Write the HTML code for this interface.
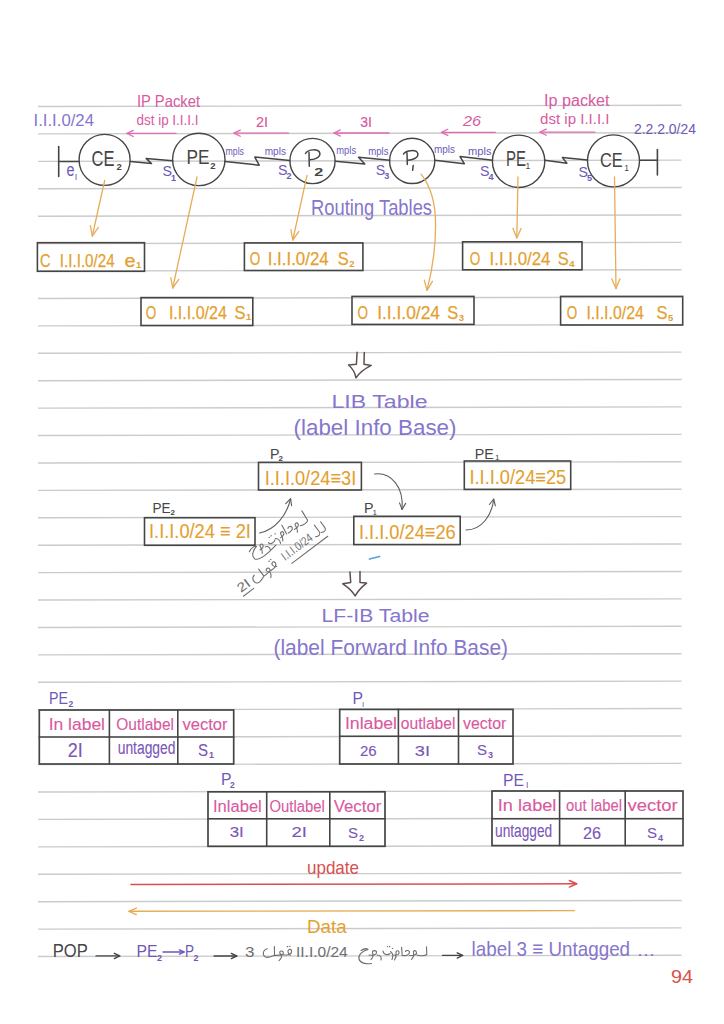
<!DOCTYPE html>
<html><head><meta charset="utf-8"><style>
html,body{margin:0;padding:0;background:#fff;}
svg{display:block;font-family:"Liberation Sans", sans-serif;}
</style></head><body>
<svg width="724" height="1024" viewBox="0 0 724 1024">
<rect width="724" height="1024" fill="#ffffff"/>
<line x1="38" y1="106.5" x2="681.5" y2="105.3" stroke="#cbcbcb" stroke-width="1.4"/>
<line x1="38" y1="133.92" x2="681.5" y2="132.72" stroke="#cbcbcb" stroke-width="1.4"/>
<line x1="38" y1="161.34" x2="681.5" y2="160.14" stroke="#cbcbcb" stroke-width="1.4"/>
<line x1="38" y1="188.76" x2="681.5" y2="187.56" stroke="#cbcbcb" stroke-width="1.4"/>
<line x1="38" y1="216.18" x2="681.5" y2="214.98" stroke="#cbcbcb" stroke-width="1.4"/>
<line x1="38" y1="243.6" x2="681.5" y2="242.4" stroke="#cbcbcb" stroke-width="1.4"/>
<line x1="38" y1="271.02" x2="681.5" y2="269.82" stroke="#cbcbcb" stroke-width="1.4"/>
<line x1="38" y1="298.44" x2="681.5" y2="297.24" stroke="#cbcbcb" stroke-width="1.4"/>
<line x1="38" y1="325.86" x2="681.5" y2="324.66" stroke="#cbcbcb" stroke-width="1.4"/>
<line x1="38" y1="353.28" x2="681.5" y2="352.08" stroke="#cbcbcb" stroke-width="1.4"/>
<line x1="38" y1="380.7" x2="681.5" y2="379.5" stroke="#cbcbcb" stroke-width="1.4"/>
<line x1="38" y1="408.12" x2="681.5" y2="406.92" stroke="#cbcbcb" stroke-width="1.4"/>
<line x1="38" y1="435.54" x2="681.5" y2="434.34" stroke="#cbcbcb" stroke-width="1.4"/>
<line x1="38" y1="462.96" x2="681.5" y2="461.76" stroke="#cbcbcb" stroke-width="1.4"/>
<line x1="38" y1="490.38" x2="681.5" y2="489.18" stroke="#cbcbcb" stroke-width="1.4"/>
<line x1="38" y1="517.8" x2="681.5" y2="516.6" stroke="#cbcbcb" stroke-width="1.4"/>
<line x1="38" y1="545.22" x2="681.5" y2="544.02" stroke="#cbcbcb" stroke-width="1.4"/>
<line x1="38" y1="572.64" x2="681.5" y2="571.44" stroke="#cbcbcb" stroke-width="1.4"/>
<line x1="38" y1="600.06" x2="681.5" y2="598.86" stroke="#cbcbcb" stroke-width="1.4"/>
<line x1="38" y1="627.48" x2="681.5" y2="626.28" stroke="#cbcbcb" stroke-width="1.4"/>
<line x1="38" y1="654.9" x2="681.5" y2="653.7" stroke="#cbcbcb" stroke-width="1.4"/>
<line x1="38" y1="682.32" x2="681.5" y2="681.12" stroke="#cbcbcb" stroke-width="1.4"/>
<line x1="38" y1="709.74" x2="681.5" y2="708.54" stroke="#cbcbcb" stroke-width="1.4"/>
<line x1="38" y1="737.16" x2="681.5" y2="735.96" stroke="#cbcbcb" stroke-width="1.4"/>
<line x1="38" y1="764.58" x2="681.5" y2="763.38" stroke="#cbcbcb" stroke-width="1.4"/>
<line x1="38" y1="792.0" x2="681.5" y2="790.8" stroke="#cbcbcb" stroke-width="1.4"/>
<line x1="38" y1="819.42" x2="681.5" y2="818.22" stroke="#cbcbcb" stroke-width="1.4"/>
<line x1="38" y1="846.84" x2="681.5" y2="845.64" stroke="#cbcbcb" stroke-width="1.4"/>
<line x1="38" y1="874.26" x2="681.5" y2="873.06" stroke="#cbcbcb" stroke-width="1.4"/>
<line x1="38" y1="901.68" x2="681.5" y2="900.48" stroke="#cbcbcb" stroke-width="1.4"/>
<line x1="38" y1="929.1" x2="681.5" y2="927.9" stroke="#cbcbcb" stroke-width="1.4"/>
<line x1="38" y1="956.52" x2="681.5" y2="955.32" stroke="#cbcbcb" stroke-width="1.4"/>
<text x="33.5" y="125.5" font-size="17" fill="#8676cc" text-anchor="start" textLength="60.5" lengthAdjust="spacingAndGlyphs">I.I.I.0/24</text>
<text x="137" y="106.8" font-size="16.5" fill="#d85aa0" text-anchor="start" textLength="63" lengthAdjust="spacingAndGlyphs">IP Packet</text>
<text x="136.5" y="124.5" font-size="15.5" fill="#d85aa0" text-anchor="start" textLength="62" lengthAdjust="spacingAndGlyphs">dst ip I.I.I.I</text>
<path d="M176,133.4 L127,133.4" stroke="#e06cb4" stroke-width="1.3" fill="none" stroke-linecap="round" stroke-linejoin="round"/>
<path d="M133.29,136.47 L127,133.4 L133.29,130.33" stroke="#e06cb4" stroke-width="1.3" fill="none" stroke-linecap="round" stroke-linejoin="round"/>
<text x="256" y="127.4" font-size="15" fill="#d85aa0" text-anchor="start" textLength="12" lengthAdjust="spacingAndGlyphs" stroke="#d85aa0" stroke-width="0.2">2I</text>
<path d="M288.5,133.2 L234,133.2" stroke="#e06cb4" stroke-width="1.3" fill="none" stroke-linecap="round" stroke-linejoin="round"/>
<path d="M240.29,136.27 L234,133.2 L240.29,130.13" stroke="#e06cb4" stroke-width="1.3" fill="none" stroke-linecap="round" stroke-linejoin="round"/>
<text x="360.3" y="126.5" font-size="15" fill="#d85aa0" text-anchor="start" textLength="11.7" lengthAdjust="spacingAndGlyphs" stroke="#d85aa0" stroke-width="0.2">3I</text>
<path d="M389,133 L334,133" stroke="#e06cb4" stroke-width="1.3" fill="none" stroke-linecap="round" stroke-linejoin="round"/>
<path d="M340.29,136.07 L334,133 L340.29,129.93" stroke="#e06cb4" stroke-width="1.3" fill="none" stroke-linecap="round" stroke-linejoin="round"/>
<text x="463" y="125.7" font-size="15" fill="#d85aa0" text-anchor="start" textLength="18" lengthAdjust="spacingAndGlyphs" style="font-style:italic">26</text>
<path d="M495.4,132.3 L441.5,132.3" stroke="#e06cb4" stroke-width="1.3" fill="none" stroke-linecap="round" stroke-linejoin="round"/>
<path d="M447.79,135.37 L441.5,132.3 L447.79,129.23" stroke="#e06cb4" stroke-width="1.3" fill="none" stroke-linecap="round" stroke-linejoin="round"/>
<text x="544" y="105.8" font-size="16" fill="#d85aa0" text-anchor="start" textLength="65.5" lengthAdjust="spacingAndGlyphs">Ip packet</text>
<text x="540" y="124" font-size="15" fill="#d85aa0" text-anchor="start" textLength="69.5" lengthAdjust="spacingAndGlyphs">dst ip I.I.I.I</text>
<path d="M595,132.2 L540,132.2" stroke="#e06cb4" stroke-width="1.3" fill="none" stroke-linecap="round" stroke-linejoin="round"/>
<path d="M546.29,135.27 L540,132.2 L546.29,129.13" stroke="#e06cb4" stroke-width="1.3" fill="none" stroke-linecap="round" stroke-linejoin="round"/>
<text x="634" y="133.8" font-size="15" fill="#6e58b8" text-anchor="start" textLength="62" lengthAdjust="spacingAndGlyphs">2.2.2.0/24</text>
<circle cx="104.6" cy="159.9" r="25.5" stroke="#454545" stroke-width="1.4" fill="none"/>
<circle cx="198.8" cy="159.4" r="26.2" stroke="#454545" stroke-width="1.4" fill="none"/>
<circle cx="312.5" cy="161" r="22.6" stroke="#454545" stroke-width="1.4" fill="none"/>
<circle cx="412.2" cy="160.9" r="22.6" stroke="#454545" stroke-width="1.4" fill="none"/>
<circle cx="518.6" cy="161.3" r="26.2" stroke="#454545" stroke-width="1.4" fill="none"/>
<circle cx="613.5" cy="160.9" r="26" stroke="#454545" stroke-width="1.4" fill="none"/>
<text x="91.5" y="165.6" font-size="21.5" fill="#454545" text-anchor="start" textLength="23" lengthAdjust="spacingAndGlyphs">CE</text>
<text x="116.5" y="170.2" font-size="9.5" fill="#454545" text-anchor="start" font-weight="bold">2</text>
<text x="186.5" y="163.8" font-size="21" fill="#454545" text-anchor="start" textLength="23" lengthAdjust="spacingAndGlyphs">PE</text>
<text x="210.3" y="168.5" font-size="9.5" fill="#454545" text-anchor="start" font-weight="bold">2</text>
<path d="M305.5,153.5 C308,149 318.5,148.5 319.8,153 C320.8,157.5 314,159.8 309.5,159.8 M309,152.5 L309.3,166.3" stroke="#454545" stroke-width="1.5" fill="none" stroke-linecap="round" stroke-linejoin="round"/>
<text x="314.2" y="175.5" font-size="11.5" fill="#454545" text-anchor="start" textLength="9" lengthAdjust="spacingAndGlyphs" font-weight="bold">2</text>
<path d="M403.5,154 C406,150 416.5,149.2 417.8,153.5 C418.8,158 412,160.2 407.5,160.2 M407,153 L407.3,164.6" stroke="#454545" stroke-width="1.5" fill="none" stroke-linecap="round" stroke-linejoin="round"/>
<path d="M413.2,165.6 L412.6,170.3" stroke="#454545" stroke-width="1.5" fill="none" stroke-linecap="round" stroke-linejoin="round"/>
<text x="506" y="166" font-size="22" fill="#454545" text-anchor="start" textLength="20" lengthAdjust="spacingAndGlyphs">PE</text>
<text x="525.5" y="169.4" font-size="8.5" fill="#454545" text-anchor="start">1</text>
<text x="600" y="167.2" font-size="20" fill="#454545" text-anchor="start" textLength="22.6" lengthAdjust="spacingAndGlyphs">CE</text>
<text x="624.3" y="170.5" font-size="8.5" fill="#454545" text-anchor="start">1</text>
<path d="M58.7,146.5 L58.7,176.5" stroke="#454545" stroke-width="1.6" fill="none" stroke-linecap="round" stroke-linejoin="round"/>
<path d="M58.7,161.5 L78.6,161.5" stroke="#454545" stroke-width="1.6" fill="none" stroke-linecap="round" stroke-linejoin="round"/>
<path d="M639.7,160.3 L657.4,160.3" stroke="#454545" stroke-width="1.6" fill="none" stroke-linecap="round" stroke-linejoin="round"/>
<path d="M657.4,149.5 L657.4,175" stroke="#454545" stroke-width="1.6" fill="none" stroke-linecap="round" stroke-linejoin="round"/>
<path d="M130.6,161.4 L151.5,163.6 L146.1,158.4 L172.6,160.7" stroke="#454545" stroke-width="1.5" fill="none" stroke-linecap="round" stroke-linejoin="round"/>
<path d="M225,161.5 L259.2,165.2 L254.8,157.1 L289.8,160.4" stroke="#454545" stroke-width="1.5" fill="none" stroke-linecap="round" stroke-linejoin="round"/>
<path d="M335.3,161.3 L364.8,164 L358.5,157.2 L389.7,160.3" stroke="#454545" stroke-width="1.5" fill="none" stroke-linecap="round" stroke-linejoin="round"/>
<path d="M434.8,160.3 L464.3,163.7 L460,156.6 L492.6,160.3" stroke="#454545" stroke-width="1.5" fill="none" stroke-linecap="round" stroke-linejoin="round"/>
<path d="M544.8,160.3 L566.9,163.2 L562.4,157.6 L587.4,160" stroke="#454545" stroke-width="1.5" fill="none" stroke-linecap="round" stroke-linejoin="round"/>
<text x="66.5" y="175.5" font-size="18" fill="#6e58b8" text-anchor="start" textLength="8" lengthAdjust="spacingAndGlyphs">e</text>
<text x="74.8" y="179.6" font-size="9" fill="#6e58b8" text-anchor="start" textLength="2.5" lengthAdjust="spacingAndGlyphs">I</text>
<text x="162.5" y="176" font-size="15.5" fill="#6e58b8" text-anchor="start" textLength="9.5" lengthAdjust="spacingAndGlyphs">S</text>
<text x="171.0" y="180.5" font-size="9" fill="#6e58b8" text-anchor="start" font-weight="bold">1</text>
<text x="278" y="174.5" font-size="15.5" fill="#6e58b8" text-anchor="start" textLength="9.5" lengthAdjust="spacingAndGlyphs">S</text>
<text x="286.5" y="179.0" font-size="9" fill="#6e58b8" text-anchor="start" font-weight="bold">2</text>
<text x="375.8" y="174.5" font-size="15.5" fill="#6e58b8" text-anchor="start" textLength="9.5" lengthAdjust="spacingAndGlyphs">S</text>
<text x="384.3" y="179.0" font-size="9" fill="#6e58b8" text-anchor="start" font-weight="bold">3</text>
<text x="480" y="175.5" font-size="15.5" fill="#6e58b8" text-anchor="start" textLength="9.5" lengthAdjust="spacingAndGlyphs">S</text>
<text x="488.5" y="180.0" font-size="9" fill="#6e58b8" text-anchor="start" font-weight="bold">4</text>
<text x="578.5" y="176.5" font-size="15.5" fill="#6e58b8" text-anchor="start" textLength="9.5" lengthAdjust="spacingAndGlyphs">S</text>
<text x="587.0" y="181.0" font-size="9" fill="#6e58b8" text-anchor="start" font-weight="bold">5</text>
<text x="225.5" y="154.5" font-size="10.5" fill="#6e58b8" text-anchor="start" textLength="18.5" lengthAdjust="spacingAndGlyphs">mpls</text>
<text x="264.7" y="155" font-size="10.5" fill="#6e58b8" text-anchor="start" textLength="21.3" lengthAdjust="spacingAndGlyphs">mpls</text>
<text x="336.3" y="153.5" font-size="10.5" fill="#6e58b8" text-anchor="start" textLength="19.8" lengthAdjust="spacingAndGlyphs">mpls</text>
<text x="368.2" y="155" font-size="10.5" fill="#6e58b8" text-anchor="start" textLength="20.3" lengthAdjust="spacingAndGlyphs">mpls</text>
<text x="434" y="153" font-size="10.5" fill="#6e58b8" text-anchor="start" textLength="21" lengthAdjust="spacingAndGlyphs">mpls</text>
<text x="468" y="154.5" font-size="10.5" fill="#6e58b8" text-anchor="start" textLength="23.5" lengthAdjust="spacingAndGlyphs">mpls</text>
<text x="311" y="215" font-size="22.5" fill="#8676cc" text-anchor="start" textLength="121" lengthAdjust="spacingAndGlyphs">Routing Tables</text>
<rect x="37.4" y="242.7" width="107.1" height="28.6" stroke="#454545" stroke-width="1.6" fill="none"/>
<text x="40.0" y="266.5" font-size="18.5" fill="#e49f30" text-anchor="start" textLength="10.5" lengthAdjust="spacingAndGlyphs" stroke="#e49f30" stroke-width="0.25">C</text>
<text x="59.8" y="266.5" font-size="18.5" fill="#e49f30" text-anchor="start" textLength="54.9" lengthAdjust="spacingAndGlyphs" stroke="#e49f30" stroke-width="0.25">I.I.I.0/24</text>
<text x="124.4" y="266.5" font-size="18.5" fill="#e49f30" text-anchor="start" textLength="11" lengthAdjust="spacingAndGlyphs" stroke="#e49f30" stroke-width="0.25">e</text>
<text x="135.9" y="268.0" font-size="9.5" fill="#e49f30" text-anchor="start" font-weight="bold">1</text>
<rect x="141" y="297.6" width="111.8" height="27.9" stroke="#454545" stroke-width="1.6" fill="none"/>
<text x="145.7" y="318.5" font-size="18.5" fill="#e49f30" text-anchor="start" textLength="10.5" lengthAdjust="spacingAndGlyphs" stroke="#e49f30" stroke-width="0.25">O</text>
<text x="168.9" y="318.5" font-size="18.5" fill="#e49f30" text-anchor="start" textLength="58.0" lengthAdjust="spacingAndGlyphs" stroke="#e49f30" stroke-width="0.25">I.I.I.0/24</text>
<text x="234.6" y="318.5" font-size="18.5" fill="#e49f30" text-anchor="start" textLength="11" lengthAdjust="spacingAndGlyphs" stroke="#e49f30" stroke-width="0.25">S</text>
<text x="246.1" y="320.0" font-size="9.5" fill="#e49f30" text-anchor="start" font-weight="bold">1</text>
<rect x="244.4" y="242.9" width="118.5" height="27.6" stroke="#454545" stroke-width="1.6" fill="none"/>
<text x="249.7" y="265" font-size="18.5" fill="#e49f30" text-anchor="start" textLength="10.5" lengthAdjust="spacingAndGlyphs" stroke="#e49f30" stroke-width="0.25">O</text>
<text x="267.7" y="265" font-size="18.5" fill="#e49f30" text-anchor="start" textLength="61.0" lengthAdjust="spacingAndGlyphs" stroke="#e49f30" stroke-width="0.25">I.I.I.0/24</text>
<text x="337.7" y="265" font-size="18.5" fill="#e49f30" text-anchor="start" textLength="11" lengthAdjust="spacingAndGlyphs" stroke="#e49f30" stroke-width="0.25">S</text>
<text x="349.2" y="266.5" font-size="9.5" fill="#e49f30" text-anchor="start" font-weight="bold">2</text>
<rect x="352" y="296.4" width="122" height="28.0" stroke="#454545" stroke-width="1.6" fill="none"/>
<text x="357.5" y="319" font-size="18.5" fill="#e49f30" text-anchor="start" textLength="10.5" lengthAdjust="spacingAndGlyphs" stroke="#e49f30" stroke-width="0.25">O</text>
<text x="377.2" y="319" font-size="18.5" fill="#e49f30" text-anchor="start" textLength="62.8" lengthAdjust="spacingAndGlyphs" stroke="#e49f30" stroke-width="0.25">I.I.I.0/24</text>
<text x="447.2" y="319" font-size="18.5" fill="#e49f30" text-anchor="start" textLength="11" lengthAdjust="spacingAndGlyphs" stroke="#e49f30" stroke-width="0.25">S</text>
<text x="458.7" y="320.5" font-size="9.5" fill="#e49f30" text-anchor="start" font-weight="bold">3</text>
<rect x="462.6" y="241.8" width="119.4" height="28.0" stroke="#454545" stroke-width="1.6" fill="none"/>
<text x="469.7" y="265" font-size="18.5" fill="#e49f30" text-anchor="start" textLength="10.5" lengthAdjust="spacingAndGlyphs" stroke="#e49f30" stroke-width="0.25">O</text>
<text x="489.5" y="265" font-size="18.5" fill="#e49f30" text-anchor="start" textLength="61.0" lengthAdjust="spacingAndGlyphs" stroke="#e49f30" stroke-width="0.25">I.I.I.0/24</text>
<text x="557.7" y="265" font-size="18.5" fill="#e49f30" text-anchor="start" textLength="11" lengthAdjust="spacingAndGlyphs" stroke="#e49f30" stroke-width="0.25">S</text>
<text x="569.2" y="266.5" font-size="9.5" fill="#e49f30" text-anchor="start" font-weight="bold">4</text>
<rect x="560.6" y="296.4" width="122.1" height="28.6" stroke="#454545" stroke-width="1.6" fill="none"/>
<text x="566.7" y="319" font-size="18.5" fill="#e49f30" text-anchor="start" textLength="10.5" lengthAdjust="spacingAndGlyphs" stroke="#e49f30" stroke-width="0.25">O</text>
<text x="586.4" y="319" font-size="18.5" fill="#e49f30" text-anchor="start" textLength="57.5" lengthAdjust="spacingAndGlyphs" stroke="#e49f30" stroke-width="0.25">I.I.I.0/24</text>
<text x="656.5" y="319" font-size="18.5" fill="#e49f30" text-anchor="start" textLength="11" lengthAdjust="spacingAndGlyphs" stroke="#e49f30" stroke-width="0.25">S</text>
<text x="668.0" y="320.5" font-size="9.5" fill="#e49f30" text-anchor="start" font-weight="bold">5</text>
<path d="M104.7,180.5 L92.3,236" stroke="#e8ac58" stroke-width="1.3" fill="none" stroke-linecap="round" stroke-linejoin="round"/>
<path d="M98.41,227.46 L92.3,236 L90.4,225.67" stroke="#e8ac58" stroke-width="1.3" fill="none" stroke-linecap="round" stroke-linejoin="round"/>
<path d="M197,177 L172.7,288" stroke="#e8ac58" stroke-width="1.3" fill="none" stroke-linecap="round" stroke-linejoin="round"/>
<path d="M178.77,279.44 L172.7,288 L170.76,277.68" stroke="#e8ac58" stroke-width="1.3" fill="none" stroke-linecap="round" stroke-linejoin="round"/>
<path d="M307,175.4 L292.8,240" stroke="#e8ac58" stroke-width="1.3" fill="none" stroke-linecap="round" stroke-linejoin="round"/>
<path d="M298.88,231.44 L292.8,240 L290.87,229.68" stroke="#e8ac58" stroke-width="1.3" fill="none" stroke-linecap="round" stroke-linejoin="round"/>
<path d="M421.1,174.2 C432,188 435.6,205 435.6,225 C435.6,255 431,275 427,290.3" stroke="#e8ac58" stroke-width="1.3" fill="none" stroke-linecap="round" stroke-linejoin="round"/>
<path d="M432.41,281.3 L427,290.3 L424.28,280.16" stroke="#e8ac58" stroke-width="1.3" fill="none" stroke-linecap="round" stroke-linejoin="round"/>
<path d="M518,177 L516.8,238" stroke="#e8ac58" stroke-width="1.3" fill="none" stroke-linecap="round" stroke-linejoin="round"/>
<path d="M521.09,228.42 L516.8,238 L512.89,228.26" stroke="#e8ac58" stroke-width="1.3" fill="none" stroke-linecap="round" stroke-linejoin="round"/>
<path d="M614.5,177 L616,288.5" stroke="#e8ac58" stroke-width="1.3" fill="none" stroke-linecap="round" stroke-linejoin="round"/>
<path d="M619.97,278.78 L616,288.5 L611.77,278.89" stroke="#e8ac58" stroke-width="1.3" fill="none" stroke-linecap="round" stroke-linejoin="round"/>
<path d="M357.1,352.3 L356.4,364.3 L348.5,365 Q354.5,370 356,377.8 Q361,370.5 371.3,365.4 L364,364.3 L364.3,352.6" stroke="#5e4d4d" stroke-width="1.5" fill="none" stroke-linecap="round" stroke-linejoin="round"/>
<text x="331.5" y="407.5" font-size="17.5" fill="#8676cc" text-anchor="start" textLength="96" lengthAdjust="spacingAndGlyphs">LIB Table</text>
<text x="293.5" y="434.5" font-size="21.5" fill="#8676cc" text-anchor="start" textLength="163" lengthAdjust="spacingAndGlyphs">(label Info Base)</text>
<rect x="258.5" y="462.4" width="102.9" height="27.6" stroke="#454545" stroke-width="1.6" fill="none"/>
<text x="264.7" y="484.8" font-size="20" fill="#e49f30" text-anchor="start" textLength="91.5" lengthAdjust="spacingAndGlyphs" stroke="#e49f30" stroke-width="0.1">I.I.I.0/24≡3I</text>
<rect x="464.3" y="461" width="106.4" height="28.4" stroke="#454545" stroke-width="1.6" fill="none"/>
<text x="469.5" y="483.5" font-size="20" fill="#e49f30" text-anchor="start" textLength="96.7" lengthAdjust="spacingAndGlyphs" stroke="#e49f30" stroke-width="0.1">I.I.I.0/24≡25</text>
<rect x="144.5" y="517.7" width="110.5" height="27.6" stroke="#454545" stroke-width="1.6" fill="none"/>
<text x="149" y="538.4" font-size="20" fill="#e49f30" text-anchor="start" textLength="101.9" lengthAdjust="spacingAndGlyphs" stroke="#e49f30" stroke-width="0.1">I.I.I.0/24 ≡ 2I</text>
<rect x="353.8" y="516.3" width="106.4" height="28.3" stroke="#454545" stroke-width="1.6" fill="none"/>
<text x="359" y="538.8" font-size="20" fill="#e49f30" text-anchor="start" textLength="96.7" lengthAdjust="spacingAndGlyphs" stroke="#e49f30" stroke-width="0.1">I.I.I.0/24≡26</text>
<text x="152.4" y="512.5" font-size="15" fill="#454545" text-anchor="start" textLength="18" lengthAdjust="spacingAndGlyphs">PE</text>
<text x="170.5" y="514.5" font-size="8" fill="#454545" text-anchor="start" font-weight="bold">2</text>
<text x="270" y="459" font-size="15" fill="#454545" text-anchor="start" textLength="9.5" lengthAdjust="spacingAndGlyphs">P</text>
<text x="278.5" y="461" font-size="8" fill="#454545" text-anchor="start" font-weight="bold">2</text>
<text x="364" y="512.5" font-size="15" fill="#454545" text-anchor="start" textLength="9.5" lengthAdjust="spacingAndGlyphs">P</text>
<text x="372.5" y="514.6" font-size="8" fill="#454545" text-anchor="start">1</text>
<text x="474.7" y="458.5" font-size="15" fill="#454545" text-anchor="start" textLength="19" lengthAdjust="spacingAndGlyphs">PE</text>
<text x="495" y="459.5" font-size="8" fill="#454545" text-anchor="start">1</text>
<path d="M259.5,533 C275,530 287,515 290.6,498.7" stroke="#5c5c5c" stroke-width="1.1" fill="none" stroke-linecap="round" stroke-linejoin="round"/>
<path d="M285.74,503.74 L290.6,498.7 L291.57,505.63" stroke="#5c5c5c" stroke-width="1.1" fill="none" stroke-linecap="round" stroke-linejoin="round"/>
<path d="M374.5,474 C392,472 404,488 402,509.4" stroke="#5c5c5c" stroke-width="1.1" fill="none" stroke-linecap="round" stroke-linejoin="round"/>
<path d="M405.61,503.4 L402,509.4 L399.49,502.86" stroke="#5c5c5c" stroke-width="1.1" fill="none" stroke-linecap="round" stroke-linejoin="round"/>
<path d="M466,530 C482,530 492,515 493.7,499" stroke="#5c5c5c" stroke-width="1.1" fill="none" stroke-linecap="round" stroke-linejoin="round"/>
<path d="M489.39,504.52 L493.7,499 L495.39,505.79" stroke="#5c5c5c" stroke-width="1.1" fill="none" stroke-linecap="round" stroke-linejoin="round"/>
<path d="M369.5,559 L379.5,556.5" stroke="#5aa0e0" stroke-width="1.8" fill="none" stroke-linecap="round" stroke-linejoin="round"/>
<g transform="translate(252,556) rotate(-31)"><path d="M0,-5 C4,-8 8,-7 9,-6 C3,-4 -1,0 1,4 C3,7 12,7 26,3 M10,-1 C13,-1 15,-2 15,-4 C15,-6 12,-6 12,-4 C12,-2 12,1 10,3 M16,-1 C18,-1 20,1 19,4 M21,-3 C21,0 26,0 28,-2 M24,-7 l0.5,0 M26.5,-7.5 l0.5,0 M29,-3 C31,-2 32,1 31,4 M31,-7 l0.5,0 M34,-1 C37,-1 39,-2 39,-4 C39,-6 36,-6 36,-4 C36,-2 36,1 34,3 M41,-1 L41.5,-11 M43,-1 C46,-1 49,-2 49,-4 C49,-6 46,-7 45,-5 M50,-1 C53,-1 56,-2 56,-4 C56,-6 53,-6 53,-4 C53,-2 53,1 51,3 M57,-1 C60,0 65,0 66,-2 L66,-13" stroke="#6e6e6e" stroke-width="1.1" fill="none" stroke-linecap="round" stroke-linejoin="round"/></g>
<g transform="translate(285,561) rotate(-37)"><text x="0" y="0" font-size="12" fill="#6e6e6e" textLength="36" lengthAdjust="spacingAndGlyphs">I.I.I.0/24</text><path d="M39,-1 C42,1 45,0 45,-3 L45,-11 M46,-1 C49,1 52,0 52,-3 L52,-10 M4,6 L49,6" stroke="#6e6e6e" stroke-width="1.1" fill="none" stroke-linecap="round" stroke-linejoin="round"/></g>
<g transform="translate(241,593) rotate(-37)"><text x="0" y="0" font-size="13" fill="#6e6e6e" textLength="13" lengthAdjust="spacingAndGlyphs">2I</text><g transform="translate(17,0)"><path d="M4.3,-6.3 C-1,-5 -1,2.4 4.3,2.4 C7,2.4 9,1.5 11.5,0.3 L11.4,-8.4 M11.5,0.3 C14,0.5 16,0 18,0 C21,0 21,-4 18.5,-4 C16,-4 16.5,-1 18.5,0 C19,2 18,4 16,5.7 M20,0 L24,0 C27,0 29,-2 28.5,-4.5 C27.5,-6.5 24.5,-5.5 25,-3 C25.5,-1 26,0 27.5,0.2 M24.2,-8.4 l0.6,0 M26.5,-8.8 l0.6,0" stroke="#6e6e6e" stroke-width="1.1" fill="none" stroke-linecap="round" stroke-linejoin="round"/></g><path d="M0,4 L13,4" stroke="#6e6e6e" stroke-width="1.1" fill="none" stroke-linecap="round" stroke-linejoin="round"/></g>
<path d="M350,572.1 L350.7,582.4 L342.8,583.8 Q351,589 355.2,595.9 Q359,589 366.6,583.1 L360,582.4 L360,571.4" stroke="#5e4d4d" stroke-width="1.5" fill="none" stroke-linecap="round" stroke-linejoin="round"/>
<text x="321.5" y="622" font-size="17.5" fill="#8676cc" text-anchor="start" textLength="108" lengthAdjust="spacingAndGlyphs">LF-IB Table</text>
<text x="273.5" y="654.5" font-size="21.5" fill="#8676cc" text-anchor="start" textLength="234.5" lengthAdjust="spacingAndGlyphs">(label Forward Info Base)</text>
<rect x="39.3" y="710" width="194.4" height="54" stroke="#454545" stroke-width="1.7" fill="none"/>
<path d="M39.3,737 L233.7,737" stroke="#454545" stroke-width="1.6" fill="none" stroke-linecap="round" stroke-linejoin="round"/>
<path d="M109.4,710 L109.4,764" stroke="#454545" stroke-width="1.6" fill="none" stroke-linecap="round" stroke-linejoin="round"/>
<path d="M177.8,710 L177.8,764" stroke="#454545" stroke-width="1.6" fill="none" stroke-linecap="round" stroke-linejoin="round"/>
<text x="48.7" y="730" font-size="17" fill="#d85aa0" text-anchor="start" textLength="56.3" lengthAdjust="spacingAndGlyphs" stroke="#d85aa0" stroke-width="0.12">In label</text>
<text x="116.3" y="730" font-size="17" fill="#d85aa0" text-anchor="start" textLength="57.7" lengthAdjust="spacingAndGlyphs" stroke="#d85aa0" stroke-width="0.12">Outlabel</text>
<text x="182.5" y="730" font-size="17" fill="#d85aa0" text-anchor="start" textLength="45.1" lengthAdjust="spacingAndGlyphs" stroke="#d85aa0" stroke-width="0.12">vector</text>
<text x="67.7" y="756.6" font-size="19.5" fill="#7a56b8" text-anchor="start" textLength="15.0" lengthAdjust="spacingAndGlyphs" stroke="#7a56b8" stroke-width="0.12">2I</text>
<text x="117.7" y="754" font-size="18" fill="#7a56b8" text-anchor="start" textLength="57.8" lengthAdjust="spacingAndGlyphs" stroke="#7a56b8" stroke-width="0.12">untagged</text>
<text x="198" y="755.5" font-size="16" fill="#7a56b8" text-anchor="start" textLength="10" lengthAdjust="spacingAndGlyphs" stroke="#7a56b8" stroke-width="0.12">S</text>
<text x="209" y="758.0" font-size="9" fill="#7a56b8" text-anchor="start" font-weight="bold">1</text>
<rect x="339.7" y="709.4" width="173.3" height="54.6" stroke="#454545" stroke-width="1.7" fill="none"/>
<path d="M339.7,736.3 L513,736.3" stroke="#454545" stroke-width="1.6" fill="none" stroke-linecap="round" stroke-linejoin="round"/>
<path d="M398.4,709.4 L398.4,764" stroke="#454545" stroke-width="1.6" fill="none" stroke-linecap="round" stroke-linejoin="round"/>
<path d="M458.5,709.4 L458.5,764" stroke="#454545" stroke-width="1.6" fill="none" stroke-linecap="round" stroke-linejoin="round"/>
<text x="344.9" y="729" font-size="16" fill="#d85aa0" text-anchor="start" textLength="52.1" lengthAdjust="spacingAndGlyphs" stroke="#d85aa0" stroke-width="0.12">Inlabel</text>
<text x="400.8" y="729" font-size="16" fill="#d85aa0" text-anchor="start" textLength="54.6" lengthAdjust="spacingAndGlyphs" stroke="#d85aa0" stroke-width="0.12">outlabel</text>
<text x="463" y="729" font-size="16" fill="#d85aa0" text-anchor="start" textLength="43.3" lengthAdjust="spacingAndGlyphs" stroke="#d85aa0" stroke-width="0.12">vector</text>
<text x="360" y="755.8" font-size="14" fill="#7a56b8" text-anchor="start" textLength="16.7" lengthAdjust="spacingAndGlyphs" stroke="#7a56b8" stroke-width="0.12">26</text>
<text x="414.8" y="755.8" font-size="14" fill="#7a56b8" text-anchor="start" textLength="15.2" lengthAdjust="spacingAndGlyphs" stroke="#7a56b8" stroke-width="0.12">3I</text>
<text x="477" y="755" font-size="15" fill="#7a56b8" text-anchor="start" textLength="10" lengthAdjust="spacingAndGlyphs" stroke="#7a56b8" stroke-width="0.12">S</text>
<text x="488" y="757.5" font-size="9" fill="#7a56b8" text-anchor="start" font-weight="bold">3</text>
<rect x="208" y="791.8" width="177" height="54.5" stroke="#454545" stroke-width="1.7" fill="none"/>
<path d="M208,818.7 L385,818.7" stroke="#454545" stroke-width="1.6" fill="none" stroke-linecap="round" stroke-linejoin="round"/>
<path d="M266.7,791.8 L266.7,846.3" stroke="#454545" stroke-width="1.6" fill="none" stroke-linecap="round" stroke-linejoin="round"/>
<path d="M329.8,791.8 L329.8,846.3" stroke="#454545" stroke-width="1.6" fill="none" stroke-linecap="round" stroke-linejoin="round"/>
<text x="213" y="811.7" font-size="16" fill="#d85aa0" text-anchor="start" textLength="48.8" lengthAdjust="spacingAndGlyphs" stroke="#d85aa0" stroke-width="0.12">Inlabel</text>
<text x="269.5" y="811.7" font-size="16" fill="#d85aa0" text-anchor="start" textLength="55.3" lengthAdjust="spacingAndGlyphs" stroke="#d85aa0" stroke-width="0.12">Outlabel</text>
<text x="333.8" y="811.7" font-size="16" fill="#d85aa0" text-anchor="start" textLength="47.5" lengthAdjust="spacingAndGlyphs" stroke="#d85aa0" stroke-width="0.12">Vector</text>
<text x="229.7" y="837.4" font-size="14.5" fill="#7a56b8" text-anchor="start" textLength="14.1" lengthAdjust="spacingAndGlyphs" stroke="#7a56b8" stroke-width="0.12">3I</text>
<text x="291.4" y="837.4" font-size="14.5" fill="#7a56b8" text-anchor="start" textLength="15.4" lengthAdjust="spacingAndGlyphs" stroke="#7a56b8" stroke-width="0.12">2I</text>
<text x="347.9" y="838" font-size="15" fill="#7a56b8" text-anchor="start" textLength="10" lengthAdjust="spacingAndGlyphs" stroke="#7a56b8" stroke-width="0.12">S</text>
<text x="358.9" y="840.5" font-size="9" fill="#7a56b8" text-anchor="start" font-weight="bold">2</text>
<rect x="492" y="791" width="191" height="54.6" stroke="#454545" stroke-width="1.7" fill="none"/>
<path d="M492,818.7 L683,818.7" stroke="#454545" stroke-width="1.6" fill="none" stroke-linecap="round" stroke-linejoin="round"/>
<path d="M559.6,791 L559.6,845.6" stroke="#454545" stroke-width="1.6" fill="none" stroke-linecap="round" stroke-linejoin="round"/>
<path d="M625.2,791 L625.2,845.6" stroke="#454545" stroke-width="1.6" fill="none" stroke-linecap="round" stroke-linejoin="round"/>
<text x="497.8" y="811" font-size="16" fill="#d85aa0" text-anchor="start" textLength="58.6" lengthAdjust="spacingAndGlyphs" stroke="#d85aa0" stroke-width="0.12">In label</text>
<text x="566" y="811" font-size="16" fill="#d85aa0" text-anchor="start" textLength="56" lengthAdjust="spacingAndGlyphs" stroke="#d85aa0" stroke-width="0.12">out label</text>
<text x="627.5" y="811" font-size="16" fill="#d85aa0" text-anchor="start" textLength="50.2" lengthAdjust="spacingAndGlyphs" stroke="#d85aa0" stroke-width="0.12">vector</text>
<text x="495" y="837" font-size="18.5" fill="#7a56b8" text-anchor="start" textLength="57.2" lengthAdjust="spacingAndGlyphs" stroke="#7a56b8" stroke-width="0.12">untagged</text>
<text x="582.9" y="839" font-size="17" fill="#7a56b8" text-anchor="start" textLength="18.1" lengthAdjust="spacingAndGlyphs" stroke="#7a56b8" stroke-width="0.12">26</text>
<text x="647" y="838" font-size="15.5" fill="#7a56b8" text-anchor="start" textLength="10" lengthAdjust="spacingAndGlyphs" stroke="#7a56b8" stroke-width="0.12">S</text>
<text x="658" y="840.5" font-size="9" fill="#7a56b8" text-anchor="start" font-weight="bold">4</text>
<text x="49" y="703.5" font-size="16.5" fill="#6e58b8" text-anchor="start" textLength="19" lengthAdjust="spacingAndGlyphs">PE</text>
<text x="68.5" y="706.5" font-size="8.5" fill="#6e58b8" text-anchor="start" font-weight="bold">2</text>
<text x="352.4" y="703.5" font-size="16.5" fill="#6e58b8" text-anchor="start" textLength="10.5" lengthAdjust="spacingAndGlyphs">P</text>
<text x="362" y="706.5" font-size="8" fill="#6e58b8" text-anchor="start">I</text>
<text x="221" y="785" font-size="16.5" fill="#6e58b8" text-anchor="start" textLength="10.5" lengthAdjust="spacingAndGlyphs">P</text>
<text x="230" y="788" font-size="8.5" fill="#6e58b8" text-anchor="start" font-weight="bold">2</text>
<text x="503" y="785.5" font-size="16.5" fill="#6e58b8" text-anchor="start" textLength="21" lengthAdjust="spacingAndGlyphs">PE</text>
<text x="526" y="787.5" font-size="8.5" fill="#6e58b8" text-anchor="start">I</text>
<text x="307" y="873.5" font-size="19" fill="#d9504f" text-anchor="start" textLength="52" lengthAdjust="spacingAndGlyphs">update</text>
<path d="M131,884.5 L576.7,883.8" stroke="#d9504f" stroke-width="1.5" fill="none" stroke-linecap="round" stroke-linejoin="round"/>
<path d="M569.39,880.56 L576.7,883.8 L569.4,887.07" stroke="#d9504f" stroke-width="1.5" fill="none" stroke-linecap="round" stroke-linejoin="round"/>
<path d="M574.5,910.6 L129,911.3" stroke="#e8ac58" stroke-width="1.4" fill="none" stroke-linecap="round" stroke-linejoin="round"/>
<path d="M136.31,914.54 L129,911.3 L136.3,908.03" stroke="#e8ac58" stroke-width="1.4" fill="none" stroke-linecap="round" stroke-linejoin="round"/>
<text x="307" y="932.5" font-size="17.5" fill="#e49f30" text-anchor="start" textLength="39.6" lengthAdjust="spacingAndGlyphs">Data</text>
<text x="52.8" y="956.5" font-size="19" fill="#454545" text-anchor="start" textLength="35" lengthAdjust="spacingAndGlyphs">POP</text>
<path d="M96,955.9 L119.7,955.9" stroke="#454545" stroke-width="1.4" fill="none" stroke-linecap="round" stroke-linejoin="round"/>
<path d="M114.31,953.27 L119.7,955.9 L114.31,958.53" stroke="#454545" stroke-width="1.4" fill="none" stroke-linecap="round" stroke-linejoin="round"/>
<text x="136.4" y="957" font-size="17" fill="#6e58b8" text-anchor="start" textLength="21" lengthAdjust="spacingAndGlyphs">PE</text>
<text x="157" y="961" font-size="9" fill="#6e58b8" text-anchor="start" font-weight="bold">2</text>
<path d="M163,952 L184,952" stroke="#6e58b8" stroke-width="1.4" fill="none" stroke-linecap="round" stroke-linejoin="round"/>
<path d="M179.51,949.81 L184,952 L179.51,954.19" stroke="#6e58b8" stroke-width="1.4" fill="none" stroke-linecap="round" stroke-linejoin="round"/>
<text x="185" y="957" font-size="17" fill="#6e58b8" text-anchor="start" textLength="9" lengthAdjust="spacingAndGlyphs">P</text>
<text x="193.5" y="961" font-size="9" fill="#6e58b8" text-anchor="start" font-weight="bold">2</text>
<path d="M214,956 L236.7,956" stroke="#454545" stroke-width="1.4" fill="none" stroke-linecap="round" stroke-linejoin="round"/>
<path d="M231.31,953.37 L236.7,956 L231.31,958.63" stroke="#454545" stroke-width="1.4" fill="none" stroke-linecap="round" stroke-linejoin="round"/>
<text x="245" y="957.4" font-size="15.5" fill="#6e6e6e" text-anchor="start" textLength="9.5" lengthAdjust="spacingAndGlyphs">3</text>
<g transform="translate(263,955) rotate(0)"><path d="M4.3,-6.3 C-1,-5 -1,2.4 4.3,2.4 C7,2.4 9,1.5 11.5,0.3 L11.4,-8.4 M11.5,0.3 C14,0.5 16,0 18,0 C21,0 21,-4 18.5,-4 C16,-4 16.5,-1 18.5,0 C19,2 18,4 16,5.7 M20,0 L24,0 C27,0 29,-2 28.5,-4.5 C27.5,-6.5 24.5,-5.5 25,-3 C25.5,-1 26,0 27.5,0.2 M24.2,-8.4 l0.6,0 M26.5,-8.8 l0.6,0" stroke="#6e6e6e" stroke-width="1.1" fill="none" stroke-linecap="round" stroke-linejoin="round"/></g>
<text x="296" y="957" font-size="15" fill="#6e6e6e" text-anchor="start" textLength="51.7" lengthAdjust="spacingAndGlyphs">II.I.0/24</text>
<path d="M361,950.5 C364,948.5 367,948.5 368,949.5 C362,951 358,955 359,959 C360,963 366,964.5 371.5,963.5 M369,955 C373,955.5 376.5,955 376.5,952.5 C376.5,950 372.5,950 372.5,952.5 C373,955 374,957 371,959.5 M377,955 C380,955 382,957 381,960 M383,951 C383.5,955 388,955.5 390,953.5 M387.2,946.8 l0.5,0 M389.4,946.6 l0.5,0 M390.5,951.5 C392.5,953 393.5,956 392,959.5 M392.3,948.5 l0.5,0 M394,955 C397.5,955.5 399.5,954.5 399,952 C398.5,950 395.5,950.5 396,953 C396.5,955.5 396,958 394.5,960 M401.6,947.4 L402.2,955.5 M403,955.5 C406,956 409.5,955 409.5,952 C409,950 406,950 405.5,951.5 M409.5,955.5 C413,955.5 417,955 416.5,952.5 C416,950 413,950 413.5,952.5 C414,955 413.5,957.5 411.5,959.3 M417,955 C419,956 425,956 426.8,954.5 L426.5,946.8" stroke="#6e6e6e" stroke-width="1.1" fill="none" stroke-linecap="round" stroke-linejoin="round"/>
<path d="M442.5,955.4 L462.6,955.4" stroke="#454545" stroke-width="1.4" fill="none" stroke-linecap="round" stroke-linejoin="round"/>
<path d="M457.21,952.77 L462.6,955.4 L457.21,958.03" stroke="#454545" stroke-width="1.4" fill="none" stroke-linecap="round" stroke-linejoin="round"/>
<text x="471.6" y="955.5" font-size="21" fill="#8676cc" text-anchor="start" textLength="158.5" lengthAdjust="spacingAndGlyphs">label 3 ≡ Untagged</text>
<text x="637" y="955.5" font-size="16" fill="#8676cc" text-anchor="start" textLength="18" lengthAdjust="spacingAndGlyphs">...</text>
<text x="671" y="983" font-size="18" fill="#dc5048" text-anchor="start" textLength="22" lengthAdjust="spacingAndGlyphs">94</text>
</svg>
</body></html>
